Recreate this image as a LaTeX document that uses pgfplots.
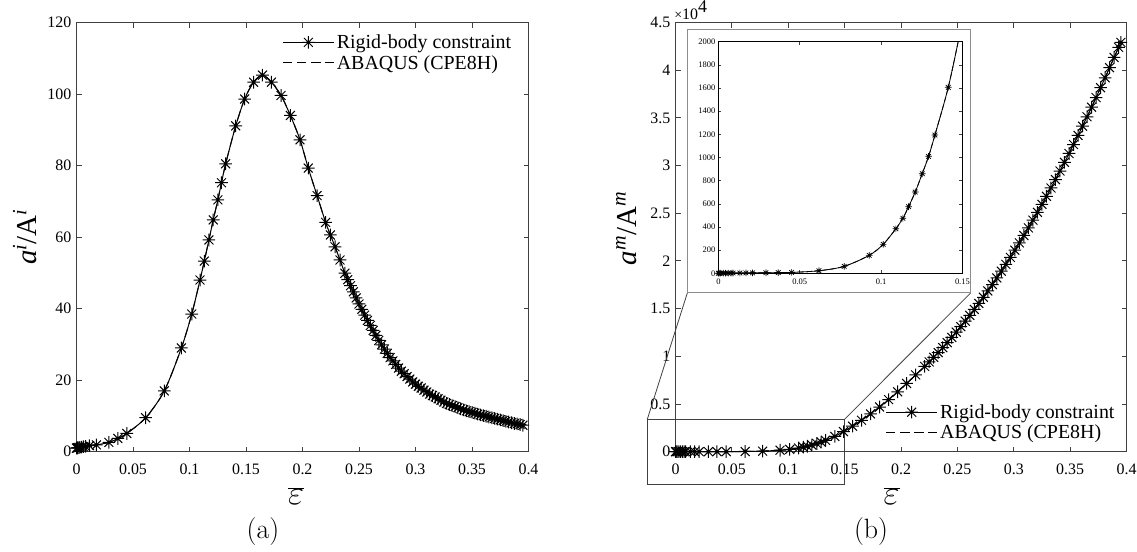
\RequirePackage{fix-cm}
\documentclass[border=0pt]{standalone}
\usepackage{fontspec}
\usepackage{pgfplots}
\usepackage{pgfplotstable}
\pgfplotsset{compat=1.18}
\newfontfamily\tnr{Liberation Serif}

\pgfdeclareplotmark{mstar}{%
  \pgfpathmoveto{\pgfqpoint{-\pgfplotmarksize}{0pt}}%
  \pgfpathlineto{\pgfqpoint{\pgfplotmarksize}{0pt}}%
  \pgfpathmoveto{\pgfqpoint{0pt}{-\pgfplotmarksize}}%
  \pgfpathlineto{\pgfqpoint{0pt}{\pgfplotmarksize}}%
  \pgfpathmoveto{\pgfqpoint{-0.7071\pgfplotmarksize}{-0.7071\pgfplotmarksize}}%
  \pgfpathlineto{\pgfqpoint{0.7071\pgfplotmarksize}{0.7071\pgfplotmarksize}}%
  \pgfpathmoveto{\pgfqpoint{-0.7071\pgfplotmarksize}{0.7071\pgfplotmarksize}}%
  \pgfpathlineto{\pgfqpoint{0.7071\pgfplotmarksize}{-0.7071\pgfplotmarksize}}%
  \pgfusepathqstroke
}

% (a) a^i/A^i versus strain
\pgfplotstableread{
x y
0 1.0
0.0005 1.05
0.001 1.1
0.002 1.15
0.003 1.2
0.0045 1.3
0.006 1.4
0.008 1.5
0.0115 1.7
0.0176 1.9
0.0287 2.6
0.0366 3.7
0.0445 5.1
0.0612 9.5
0.0777 17.0
0.0928 29.0
0.1020 38.5
0.1093 48.0
0.1131 53.3
0.1172 59.2
0.1210 64.8
0.1251 70.4
0.1283 75.2
0.1320 80.5
0.1409 91.1
0.1488 98.6
0.1567 103.3
0.1646 105.3
0.1725 103.3
0.1810 99.6
0.1893 94.0
0.1978 87.2
0.2051 79.3
0.2129 71.6
0.2205 64.1
0.2247 60.6
0.2288 57.3
0.2332 53.6
0.2375 49.9
0.2400 48.1
0.2425 46.4
0.2450 44.7
0.2475 43.0
0.2500 41.3
0.2525 39.8
0.2550 38.2
0.2575 36.7
0.2600 35.3
0.2625 33.9
0.2650 32.5
0.2675 31.1
0.2700 29.9
0.2725 28.7
0.2750 27.5
0.2775 26.3
0.2800 25.4
0.2825 24.4
0.2850 23.4
0.2875 22.5
0.2900 21.8
0.2925 21.0
0.2950 20.3
0.2975 19.5
0.3000 18.9
0.3025 18.3
0.3050 17.8
0.3075 17.2
0.3100 16.7
0.3125 16.1
0.3150 15.7
0.3175 15.3
0.3200 14.8
0.3225 14.4
0.3250 13.9
0.3275 13.5
0.3300 13.2
0.3325 12.9
0.3350 12.6
0.3375 12.3
0.3400 12.0
0.3425 11.7
0.3450 11.4
0.3475 11.2
0.3500 11.0
0.3525 10.8
0.3550 10.5
0.3575 10.3
0.3600 10.1
0.3625 9.9
0.3650 9.7
0.3675 9.5
0.3700 9.3
0.3725 9.1
0.3750 8.9
0.3775 8.7
0.3800 8.5
0.3825 8.3
0.3850 8.1
0.3875 7.9
0.3900 7.8
0.3925 7.6
0.3950 7.4
}\dataA

% (b) a^m/A^m versus strain
\pgfplotstableread{
x y
0 1
0.0005 1
0.0015 1.1
0.003 1.3
0.0044 1.5
0.006 1.8
0.0077 2.1
0.009 2.4
0.0132 3
0.0169 3.5
0.021 4
0.0292 5
0.0368 6
0.045 8
0.0618 22
0.0773 60
0.0927 155
0.1013 250
0.1091 385
0.1134 475
0.1169 575
0.1210 702
0.1253 860
0.1292 1010
0.1331 1194
0.1413 1606
0.149 2110
0.157 2677
0.165 3297
0.173 3966
0.181 4687
0.189 5459
0.197 6282
0.205 7157
0.213 8049
0.221 8943
0.225 9412
0.229 9896
0.233 10395
0.237 10908
0.241 11437
0.245 11980
0.249 12536
0.253 13109
0.257 13696
0.261 14298
0.265 14915
0.269 15546
0.273 16192
0.277 16853
0.281 17528
0.285 18219
0.289 18923
0.293 19643
0.297 20377
0.301 21127
0.305 21891
0.309 22669
0.313 23462
0.317 24271
0.321 25094
0.325 25932
0.329 26783
0.333 27650
0.337 28533
0.341 29429
0.345 30340
0.349 31266
0.353 32206
0.357 33162
0.361 34133
0.365 35118
0.369 36117
0.373 37131
0.377 38161
0.381 39205
0.385 40263
0.389 41336
0.393 42390
0.395 42917
}\dataB

\pgfplotsset{
  mainax/.style={
    scale only axis,
    axis line style={black!75, line width=0.9bp},
    tick style={black!75, line width=0.9bp},
    tick align=inside,
    major tick length=5bp,
    ticklabel style={font=\fontsize{16}{16}\selectfont\tnr},
    yticklabel style={xshift=-1.7bp},
    xticklabel style={yshift=-9bp},
    scaled ticks=false,
    xmin=0, xmax=0.4,
    xtick={0,0.05,0.1,0.15,0.2,0.25,0.3,0.35,0.4},
    xticklabels={0,0.05,0.1,0.15,0.2,0.25,0.3,0.35,0.4},
    xlabel={$\overline{\varepsilon}$},
    xlabel style={font=\fontsize{35}{35}\selectfont, anchor=center},
    ylabel style={font=\fontsize{29}{29}\selectfont\tnr, anchor=center},
    clip=false,
    legend cell align=left,
    legend style={draw=none, fill=none, font=\fontsize{20}{22}\selectfont\tnr,
      inner sep=0bp, row sep=0bp, nodes={inner xsep=2.5bp, inner ysep=2.6bp}},
    legend image code/.code={\draw[mark repeat=2,mark phase=2,##1] plot coordinates {(0bp,0bp) (25.5bp,0bp) (51bp,0bp)};},
  },
  rigid/.style={black, line width=1bp, smooth, mark=mstar, mark size=6.3bp, mark options={solid, line width=1bp}},
  abaqus/.style={black, line width=1bp, smooth, dash pattern=on 9bp off 5bp, no marks},
}

\begin{document}
\begin{tikzpicture}
\path[use as bounding box] (0,0) rectangle (1137bp,-552bp);

% ---------- (a) ----------
\begin{axis}[mainax,
  at={(76.5bp,-22.5bp)}, anchor=north west,
  width=452bp, height=429.2bp,
  ymin=0, ymax=120,
  ytick={0,20,40,60,80,100,120},
  yticklabels={0,20,40,60,80,100,120},
  xlabel style={at={(axis description cs:0.486,-0.104)}},
  ylabel={{\itshape a}\textsuperscript{\itshape i}/A\textsuperscript{\itshape i}},
  ylabel style={at={(axis description cs:-0.114,0.5)}},
  legend style={at={(axis description cs:0.455,0.978)}, anchor=north west},
]
\addplot[rigid] table {\dataA};
\addlegendentry{Rigid-body constraint}
\addplot[abaqus] table {\dataA};
\addlegendentry{ABAQUS (CPE8H)}
\node[font=\fontsize{28}{28}\selectfont] at (axis description cs:0.4126,-0.1864) {(a)};
\end{axis}

% ---------- (b) ----------
\begin{axis}[mainax,
  at={(675.5bp,-22.5bp)}, anchor=north west,
  width=451bp, height=429.2bp,
  ymin=0, ymax=45000,
  ytick={0,5000,10000,15000,20000,25000,30000,35000,40000,45000},
  yticklabels={0,0.5,1,1.5,2,2.5,3,3.5,4,4.5},
  xlabel style={at={(axis description cs:0.479,-0.104)}},
  ylabel={{\itshape a}\textsuperscript{\itshape m}/A\textsuperscript{\itshape m}},
  ylabel style={at={(axis description cs:-0.109,0.52)}},
  legend style={at={(axis description cs:0.4656,0.1165)}, anchor=north west},
]
\addplot[rigid] table {\dataB};
\addlegendentry{Rigid-body constraint}
\addplot[abaqus] table {\dataB};
\addlegendentry{ABAQUS (CPE8H)}
% zoom window and connectors
\draw[black!75, line width=0.8bp] (axis cs:-0.025,-3400) rectangle (axis cs:0.15,3400);
\draw[black!75, line width=0.8bp] (axis cs:-0.025,3400) -- (axis cs:0.0105,16648);
\draw[black!75, line width=0.8bp] (axis cs:0.15,3400) -- (axis cs:0.2618,16648);
\draw[black!45, line width=0.9bp, fill=white] (axis cs:0.0105,16648) rectangle (axis cs:0.2618,44310);
\node[font=\fontsize{28}{28}\selectfont] at (axis description cs:0.4335,-0.1864) {(b)};
\node[anchor=base west, inner sep=0pt, font=\tnr] at (axis description cs:-0.003,1.0065)
  {{\fontsize{14}{14}\selectfont ×}{\fontsize{16}{16}\selectfont 10}\raisebox{7bp}{\fontsize{18}{18}\selectfont 4}};
\end{axis}

% ---------- inset ----------
\begin{axis}[
  at={(718.4bp,-41.7bp)}, anchor=north west,
  width=244bp, height=231.6bp, scale only axis,
  xmin=0, xmax=0.15, ymin=0, ymax=2000,
  axis line style={black, line width=0.8bp},
  tick style={black!75, line width=0.6bp},
  tick align=inside, major tick length=3bp,
  ticklabel style={font=\fontsize{8.5}{8.5}\selectfont\tnr},
  scaled ticks=false,
  xtick={0,0.05,0.1,0.15}, xticklabels={0,0.05,0.1,0.15},
  ytick={0,200,400,600,800,1000,1200,1400,1600,1800,2000},
  yticklabels={0,200,400,600,800,1000,1200,1400,1600,1800,2000},
  yticklabel style={xshift=0.5bp},
  xticklabel style={yshift=-2bp},
]
\addplot[black, line width=0.8bp, smooth, mark=mstar, mark size=3.3bp, mark options={solid, line width=0.7bp}] table {\dataB};
\addplot[black, line width=0.8bp, smooth, dash pattern=on 5bp off 3bp] table {\dataB};
\end{axis}
\end{tikzpicture}
\end{document}
